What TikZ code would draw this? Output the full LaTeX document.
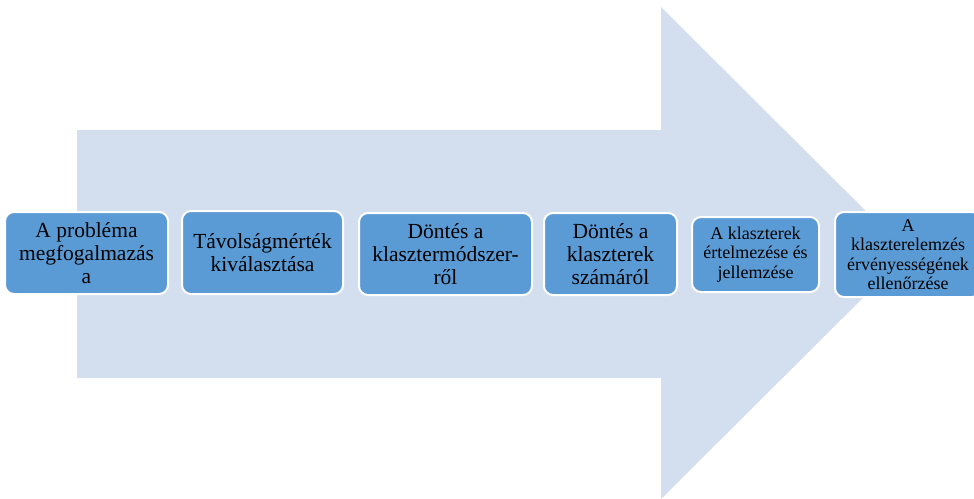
\documentclass[tikz,border=0pt]{standalone}
\usepackage{fontspec}
\setmainfont{Liberation Serif}
\definecolor{arrowfill}{HTML}{D3DEEF}
\definecolor{boxfill}{HTML}{5B9BD5}
\tikzset{
  stepbox/.style={draw=white, line width=2pt, fill=boxfill, rounded corners=9pt,
    inner sep=0pt, align=center, text=black},
  bigtxt/.style={font=\fontsize{21.5}{23}\selectfont},
  smalltxt/.style={font=\fontsize{18}{19.5}\selectfont}
}
\begin{document}
\begin{tikzpicture}[x=1pt,y=-1pt]
\useasboundingbox (0,0) rectangle (974,498);
% big arrow
\fill[arrowfill] (77,130) -- (661,130) -- (661,7) -- (908,253) -- (661,499) -- (661,378) -- (77,378) -- cycle;
% steps
\node[stepbox,bigtxt,minimum width=163pt,minimum height=82pt] (s1) at (86.5,253) {A probléma\\megfogalmazás\\a};
\node[stepbox,bigtxt,minimum width=161pt,minimum height=83pt] (s2) at (262.5,252.5) {Távolságmérték\\kiválasztása};
\node[stepbox,bigtxt,minimum width=173pt,minimum height=82pt] (s3) at (445.5,254) {Döntés a\\klasztermódszer-\\ről};
\node[stepbox,bigtxt,minimum width=133pt,minimum height=82pt] (s4) at (610.5,254) {Döntés a\\klaszterek\\számáról};
\node[stepbox,smalltxt,minimum width=127pt,minimum height=75pt] (s5) at (755.5,254.5) {A klaszterek\\értelmezése és\\jellemzése};
\node[stepbox,smalltxt,minimum width=146pt,minimum height=85pt] (s6) at (908,254.5) {A\\klaszterelemzés\\érvényességének\\ellenőrzése};
\end{tikzpicture}
\end{document}
